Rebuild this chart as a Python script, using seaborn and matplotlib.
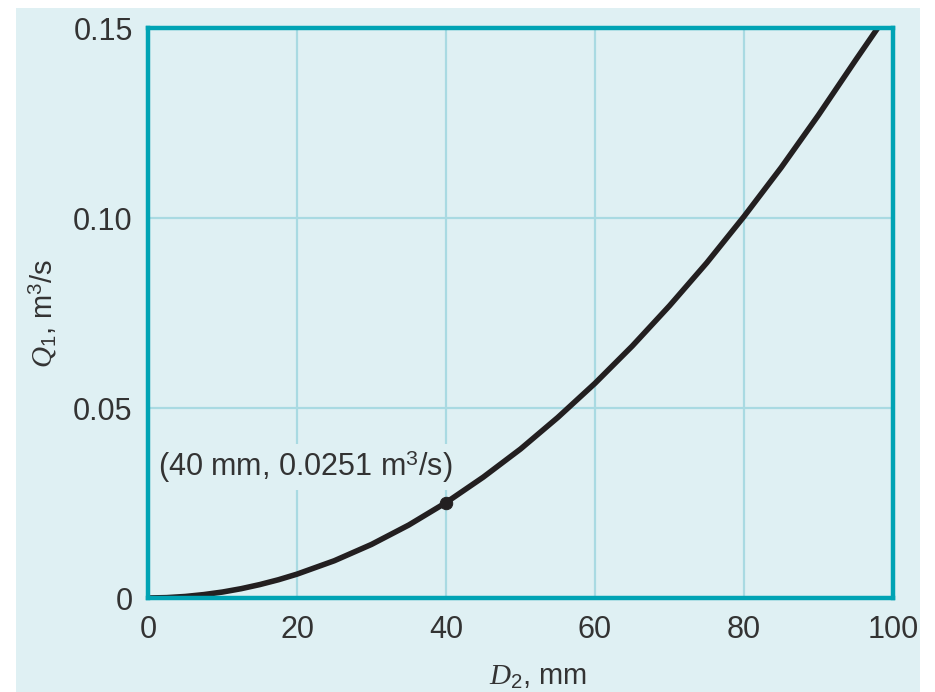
import matplotlib
matplotlib.use("Agg")
import matplotlib.pyplot as plt
import seaborn as sns
import pandas as pd
from matplotlib.patches import Rectangle

# Data
diameter_mm = [0, 2.5, 5, 7.5, 10, 12.5, 15, 17.5, 20, 25, 30, 35, 40, 45, 50, 55, 60, 65,
               70, 75, 80, 85, 90, 95, 98.3]
flow_m3s = [0.0, 0.0001, 0.0004, 0.0009, 0.00157, 0.00245, 0.00353, 0.0048, 0.00628, 0.0098,
            0.0141, 0.0192, 0.0251, 0.0318, 0.0392, 0.0475, 0.0565, 0.0663, 0.0769, 0.0882,
            0.1004, 0.1133, 0.1271, 0.1416, 0.1510]
point_d = [40]
point_q = [0.0251]
x_ticks = [0, 20, 40, 60, 80, 100]
x_labels = ["0", "20", "40", "60", "80", "100"]
y_ticks = [0, 0.05, 0.10, 0.15]
y_labels = ["0", "0.05", "0.10", "0.15"]
annotation = "(40 mm, 0.0251 m$^3$/s)"

BG = "#DFF0F3"
SPINE = "#00A3B4"
GRID = "#A9DAE2"
INK = "#231F20"
TXT = "#333333"

sns.set_theme(style="white")
plt.rcParams["font.family"] = ["Liberation Sans", "DejaVu Sans"]
plt.rcParams["mathtext.fontset"] = "custom"
plt.rcParams["mathtext.rm"] = "Liberation Sans"
plt.rcParams["mathtext.it"] = "Liberation Serif:italic"
plt.rcParams["mathtext.bf"] = "Liberation Sans:bold"

fig = plt.figure(figsize=(9.35, 6.92), dpi=100, facecolor="white")
fig.patches.append(Rectangle((16 / 935, 0), (920 - 16) / 935, (692 - 8) / 692,
                             transform=fig.transFigure, facecolor=BG, edgecolor="none", zorder=-10))
ax = fig.add_axes([148 / 935, (692 - 598) / 692, (893 - 148) / 935, (598 - 28) / 692])
ax.set_zorder(1)
ax.set_facecolor(BG)

df = pd.DataFrame({"D": diameter_mm, "Q": flow_m3s})
sns.lineplot(data=df, x="D", y="Q", ax=ax, color=INK, linewidth=4.0, zorder=5,
             solid_joinstyle="round", solid_capstyle="butt")
sns.scatterplot(x=point_d, y=point_q, ax=ax, color=INK, s=80, edgecolor=INK, zorder=6)

ax.set_xlim(0, 100)
ax.set_ylim(0, 0.15)
ax.set_xticks(x_ticks, x_labels)
ax.set_yticks(y_ticks, y_labels)
ax.tick_params(axis="both", length=0, labelsize=22, labelcolor=TXT)
ax.tick_params(axis="x", pad=12)
ax.tick_params(axis="y", pad=11)
ax.grid(True, color=GRID, linewidth=1.6, zorder=1)
ax.set_axisbelow(True)
for sp in ax.spines.values():
    sp.set_color(SPINE)
    sp.set_linewidth(3.2)
    sp.set_zorder(7)

ax.set_xlabel("$D_2$, mm", fontsize=21, color=TXT, labelpad=13)
ax.xaxis.label.set_x(0.523)
ax.set_ylabel("$Q_1$, m$^3$/s", fontsize=21, color=TXT, labelpad=10)

ax.text(1.3, 0.0345, annotation, fontsize=22, color=TXT, va="center", ha="left", zorder=4,
        bbox=dict(facecolor=BG, edgecolor="none", pad=3))

fig.savefig("out.png", dpi=100, facecolor="white")
